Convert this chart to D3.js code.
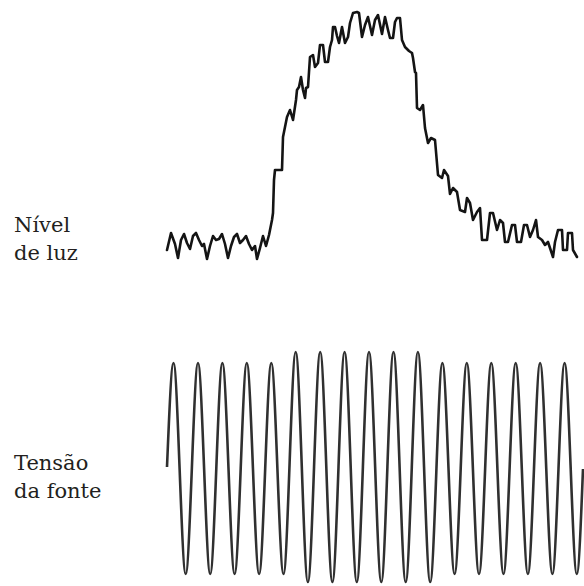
<!DOCTYPE html>
<html>
<head>
<meta charset="utf-8">
<script src="https://cdn.jsdelivr.net/npm/d3@7"></script>
<style>
  body { margin: 0; background: #fff; }
  text { font-family: "DejaVu Serif", serif; fill: #231f20; }
</style>
</head>
<body>
<div id="visualization"></div>
<script>
// time axis shared by both traces (arbitrary sample units)
var lightT = [0, 4, 8, 11, 14, 17, 20, 23, 26, 29, 32, 35, 37, 40, 43, 46, 49, 52, 55, 58,
  61, 64, 67, 70, 73, 76, 79, 82, 85, 88, 90, 93, 96, 99, 102, 105, 106, 107, 108, 115,
  116, 120, 123, 126, 129, 130, 132, 134, 136, 138, 139, 141, 143, 146, 148, 151, 153, 156, 158, 161,
  163, 165, 166, 168, 170, 172, 175, 178, 181, 183, 186, 190, 192, 195, 198, 201, 205, 208, 211, 215,
  218, 221, 223, 226, 228, 230, 233, 235, 238, 242, 245, 246, 248, 249, 250, 253, 256, 258, 261, 264,
  268, 271, 275, 277, 281, 283, 286, 290, 293, 298, 300, 303, 306, 310, 313, 315, 320, 323, 326, 330,
  333, 336, 338, 341, 345, 348, 350, 354, 357, 360, 363, 366, 369, 371, 375, 378, 381, 386, 388, 391,
  395, 396, 400, 401, 405, 406, 410];
var lightLevel = [12, 29, 18, 4, 22, 28, 19, 13, 26, 29, 22, 16, 18, 3, 16, 26, 22, 23, 28, 18,
  4, 16, 25, 28, 19, 22, 26, 18, 12, 16, 3, 14, 26, 16, 27, 42, 49, 82, 92, 92,
  125, 145, 152, 142, 162, 172, 175, 185, 172, 164, 174, 175, 205, 207, 195, 199, 217, 217, 200, 200,
  215, 222, 235, 235, 226, 219, 235, 219, 225, 239, 249, 250, 249, 225, 237, 245, 227, 242, 247, 228,
  245, 232, 224, 224, 240, 244, 244, 222, 215, 211, 209, 204, 190, 189, 154, 152, 157, 134, 119, 124,
  122, 87, 84, 92, 86, 68, 74, 70, 52, 50, 64, 59, 42, 50, 54, 22, 22, 49, 49, 32,
  42, 39, 20, 20, 37, 37, 20, 20, 37, 37, 25, 32, 42, 25, 22, 17, 20, 5, 20, 32,
  32, 12, 12, 29, 29, 12, 5];

// supply voltage: start, peaks/troughs, end
var voltT = [0, 6.5, 18.7, 31, 43.2, 55.4, 67.6, 79.8, 92.1, 104.3, 116.5, 128.7, 140.9, 153.2, 165.4,
  177.6, 189.8, 202, 214.3, 226.5, 238.7, 250.9, 263.2, 275.4, 287.6, 299.8, 312, 324.3, 336.5,
  348.7, 360.9, 373.1, 385.4, 397.6, 409.8, 416];
var voltValue = [1, 105, -106, 105, -106, 105, -106, 105, -106, 105, -106, 116, -114, 116, -114,
  116, -114, 116, -114, 116, -114, 116, -114, 105, -106, 105, -106, 105, -106,
  105, -106, 105, -106, 105, -106, -1];

var labels = [["Nível", "de luz"], ["Tensão", "da fonte"]];

var width = 584, height = 586;

var svg = d3.select("#visualization").append("svg")
    .attr("width", width)
    .attr("height", height)
    .style("display", "block");

svg.append("rect").attr("width", width).attr("height", height).attr("fill", "#fff");

var xScale = d3.scaleLinear().domain([0, 416]).range([167, 583]);
var yLight = d3.scaleLinear().domain([0, 250]).range([262, 12]);
var yVolt = d3.scaleLinear().domain([-120, 120]).range([588, 348]);

var lightData = lightT.map(function(t, i) { return {t: t, v: lightLevel[i]}; });
var voltData = voltT.map(function(t, i) { return {t: t, v: voltValue[i]}; });

var lightLine = d3.line()
    .x(function(d) { return xScale(d.t); })
    .y(function(d) { return yLight(d.v); });

var voltLine = d3.line()
    .x(function(d) { return xScale(d.t); })
    .y(function(d) { return yVolt(d.v); })
    .curve(d3.curveMonotoneX);

svg.append("path")
    .datum(lightData)
    .attr("d", lightLine)
    .attr("fill", "none")
    .attr("stroke", "#141414")
    .attr("stroke-width", 2.6)
    .attr("stroke-linejoin", "round")
    .attr("stroke-linecap", "round");

svg.append("path")
    .datum(voltData)
    .attr("d", voltLine)
    .attr("fill", "none")
    .attr("stroke", "#303030")
    .attr("stroke-width", 2.6);

// row labels
var labelY = [232, 470];
labels.forEach(function(lines, i) {
    var t = svg.append("text")
        .attr("x", 14)
        .attr("y", labelY[i])
        .attr("font-size", 21);
    lines.forEach(function(s, j) {
        t.append("tspan").attr("x", 14).attr("dy", j === 0 ? 0 : 28).text(s);
    });
});
</script>
</body>
</html>
